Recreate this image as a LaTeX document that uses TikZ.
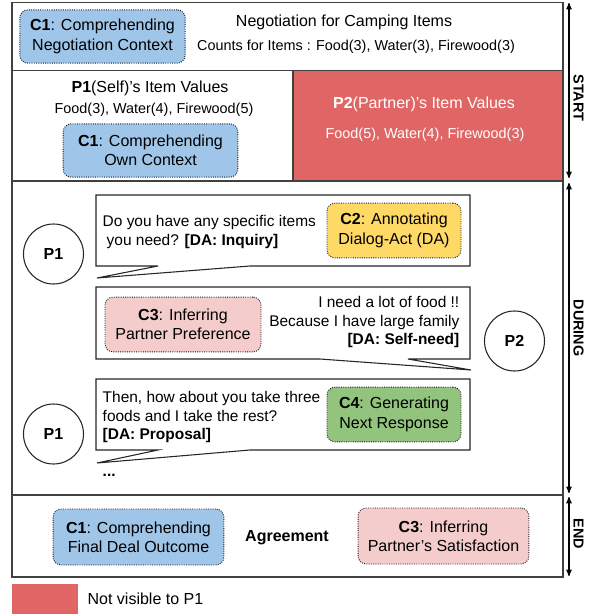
\documentclass[tikz,border=0pt]{standalone}
\usepackage{fontspec}
\setmainfont{Liberation Sans}
\usepackage{xcolor}
\usepackage{tikz}
\usetikzlibrary{arrows,positioning}
\tikzset{>=stealth'}

\definecolor{ctxblue}{HTML}{9FC5E8}
\definecolor{hidered}{HTML}{E06666}
\definecolor{infpink}{HTML}{F4CCCC}
\definecolor{dayellow}{HTML}{FFD966}
\definecolor{gengreen}{HTML}{93C47D}

\newcommand{\bigtxt}{\fontsize{12}{14.5}\selectfont}
\newcommand{\saytxt}{\fontsize{11.6}{14}\selectfont}
\newcommand{\smalltxt}{\fontsize{10.8}{13}\selectfont}

\begin{document}
\begin{tikzpicture}[x=0.75pt, y=-0.75pt,
                    frame/.style={line width=1pt, draw=black!75},
                    cbox/.style={draw=black!90, line width=0.7pt, densely dotted, rounded corners=6pt, align=center, inner sep=0pt, font=\bigtxt},
                    bubble/.style={line width=0.8pt, draw=black!85, fill=white},
                    speaker/.style={circle, draw=black!85, line width=0.8pt, minimum size=45pt, inner sep=0pt, font=\bfseries\bigtxt},
                    phase/.style={<->, line width=0.8pt},
                    phaselabel/.style={rotate=-90, font=\bfseries\smalltxt},
                   ]

\useasboundingbox (0,0) rectangle (592,615);

% panels
\draw[frame] (12,2.5) rectangle (563,70.5);
\draw[frame] (12,70.5) rectangle (293,181);
\draw[frame, fill=hidered] (293,70.5) rectangle (563,181);
\draw[frame] (12,181) rectangle (563,495);
\draw[frame] (12,495) rectangle (563,577);

% start
\node[cbox, fill=ctxblue, minimum width=124pt, minimum height=40pt] (c1neg) at (102.5,36.5) {\textbf{C1}: Comprehending\\Negotiation Context};
\node[font=\bigtxt] (title) at (344,22) {Negotiation for Camping Items};
\node[font=\smalltxt] (counts) at (356,47) {Counts for Items : Food(3), Water(3), Firewood(3)};

\node[font=\bigtxt] (p1val) at (150,88) {\textbf{P1}(Self)'s Item Values};
\node[font=\smalltxt] (p1num) at (154,110) {Food(3), Water(4), Firewood(5)};
\node[cbox, fill=ctxblue, minimum width=131pt, minimum height=40pt] (c1own) at (150.5,150.5) {\textbf{C1}: Comprehending\\Own Context};

\node[font=\bigtxt, text=white] (p2val) at (424,104) {\textbf{P2}(Partner)'s Item Values};
\node[font=\smalltxt, text=white] (p2num) at (425,135) {Food(5), Water(4), Firewood(3)};

% during
\draw[bubble] (96,195) -- (470,195) -- (470,266) -- (250,266) -- (97,278) -- (158,266) -- (96,266) -- cycle;
\node[speaker] (p1a) at (53.5,254) {P1};
\node[anchor=west, align=left, font=\saytxt] (say1) at (98,232) {Do you have any specific items\\\hspace*{3pt}you need? \textbf{[DA: Inquiry]}};
\node[cbox, fill=dayellow, minimum width=100.5pt, minimum height=41pt] (c2) at (394,230.5) {\textbf{C2}: Annotating\\Dialog-Act (DA)};

\draw[bubble] (96,287) -- (470,287) -- (470,359) -- (408,359) -- (471,370) -- (320,359) -- (96,359) -- cycle;
\node[cbox, fill=infpink, minimum width=117pt, minimum height=41pt] (c3pref) at (183,324.5) {\textbf{C3}: Inferring\\Partner Preference};
\node[anchor=east, align=right, font=\saytxt] (say2) at (464,322) {I need a lot of food !!\\Because I have large family\\\textbf{[DA: Self-need]}};
\node[speaker] (p2) at (514.5,341) {P2};

\draw[bubble] (96,379) -- (470,379) -- (470,450) -- (250,450) -- (97,463) -- (158,450) -- (96,450) -- cycle;
\node[speaker] (p1b) at (53.5,434) {P1};
\node[anchor=west, align=left, font=\saytxt] (say3) at (98,417) {Then, how about you take three\\foods and I take the rest?\\\textbf{[DA: Proposal]}};
\node[cbox, fill=gengreen, minimum width=100.5pt, minimum height=41pt] (c4) at (394,414.5) {\textbf{C4}: Generating\\Next Response};
\node[anchor=west, font=\bfseries\saytxt] (more) at (98,475) {...};

% end
\node[cbox, fill=ctxblue, minimum width=128pt, minimum height=42pt] (c1fin) at (138.5,537) {\textbf{C1}: Comprehending\\Final Deal Outcome};
\node[font=\bfseries\bigtxt] (agree) at (287,538) {Agreement};
\node[cbox, fill=infpink, minimum width=128pt, minimum height=42pt] (c3sat) at (443.5,536) {\textbf{C3}: Inferring\\Partner's Satisfaction};

% phases
\coordinate (st1) at (569,3);
\coordinate (st2) at (569,178);
\coordinate (du1) at (569,183);
\coordinate (du2) at (569,493);
\coordinate (en1) at (569,497);
\coordinate (en2) at (569,576);
\draw[phase] (st1) -- (st2);
\draw[phase] (du1) -- (du2);
\draw[phase] (en1) -- (en2);
\node[phaselabel] (startlbl) at (578.5,98) {START};
\node[phaselabel] (duringlbl) at (578.5,328) {DURING};
\node[phaselabel] (endlbl) at (578.5,534) {END};

% legend
\node[fill=hidered, minimum width=49.5pt, minimum height=22.5pt, inner sep=0pt] (legbox) at (45,599) {};
\node[right=3.5pt of legbox, font=\bigtxt] (legtxt) {Not visible to P1};

\end{tikzpicture}
\end{document}
